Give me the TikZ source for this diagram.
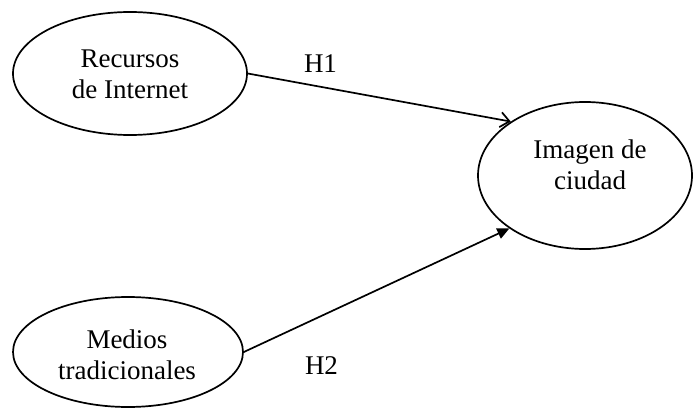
\documentclass[tikz,border=0pt]{standalone}
\usepackage{fontspec}
\setmainfont{Liberation Serif}
\usetikzlibrary{arrows.meta,shapes.geometric}
\begin{document}
\begin{tikzpicture}[x=1pt,y=-1pt,
  ell/.style={draw=black, line width=1.7pt, ellipse, inner sep=0pt},
  txt/.style={align=center, inner sep=0pt, font=\fontsize{27}{31}\selectfont},
  lbl/.style={inner sep=0pt, anchor=base, font=\fontsize{27}{31}\selectfont},
  conn/.style={line width=1.7pt, draw=black}]
\useasboundingbox (0,0) rectangle (693,409);
\node[ell, minimum width=234pt, minimum height=123pt] (ri) at (130,73.5) {};
\node[ell, minimum width=230pt, minimum height=110pt] (mt) at (128,352) {};
\node[ell, minimum width=214pt, minimum height=147pt] (ic) at (585,175.5) {};
\node[txt] (riT) at (130,74) {Recursos\\de Internet};
\node[txt] (mtT) at (127,354.3) {Medios\\tradicionales};
\node[txt] (icT) at (590,164.3) {Imagen de\\ciudad};
\draw[conn, -{Straight Barb[length=9pt, width=15pt, line width=1.7pt]}] (ri.east) -- (ic.144.6);
\draw[conn, -{Triangle[length=12pt, width=11pt]}] (mt.east) -- (ic.215);
\node[lbl] (h1) at (320.5,73) {H1};
\node[lbl] (h2) at (321.5,374) {H2};
\end{tikzpicture}
\end{document}
